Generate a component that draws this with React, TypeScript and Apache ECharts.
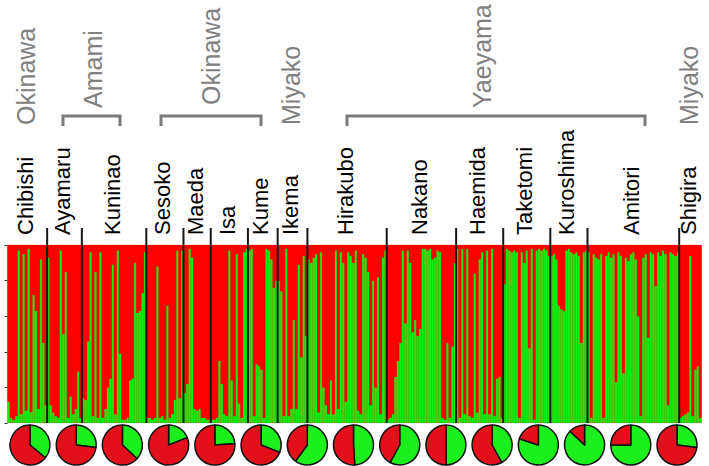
import React, { useEffect, useRef } from "react";
import * as echarts from "echarts";

// ---- data (green = ancestry proportion of the green cluster, per individual) ----
const POPULATIONS = [
  "Chibishi", "Ayamaru", "Kuninao", "Sesoko", "Maeda", "Isa", "Kume", "Ikema",
  "Hirakubo", "Nakano", "Haemida", "Taketomi", "Kuroshima", "Amitori", "Shigira",
];
const chibishi = [0.12, 0.03, 0.02, 0.04, 0.97, 0.05, 0.95, 0.07, 0.98, 0.06, 0.72, 0.63, 0.08, 0.92, 0.45, 0.1];
const ayamaru = [0.93, 0.1, 0.06, 0.04, 0.03, 0.97, 0.5, 0.85, 0.03, 0.15, 0.05, 0.08, 0.29, 0.03];
const kuninao = [0.14, 0.13, 0.46, 0.96, 0.04, 0.85, 0.03, 0.96, 0.03, 0.08, 0.2, 0.25, 0.89, 0.05, 0.97, 0.39, 0.02, 0.02, 0.03, 0.24, 0.25, 0.9, 0.62, 0.63, 0.73, 0.96];
const sesoko = [0.03, 0.03, 0.02, 0.03, 0.88, 0.03, 0.04, 0.02, 0.66, 0.03, 0.05, 0.13, 0.97, 0.14, 0.97];
const maeda = [0.17, 0.22, 0.98, 0.93, 0.08, 0.07, 0.08, 0.03, 0.03, 0.02, 0.02];
const isa = [0.02, 0.02, 0.03, 0.35, 0.22, 0.05, 0.04, 0.97, 0.24, 0.04, 0.95, 0.11, 0.03, 0.96, 0.98];
const kume = [0.97, 0.98, 0.04, 0.33, 0.32, 0.3, 0.03, 0.98, 0.97, 0.92, 0.76, 0.8];
const ikema = [0.8, 0.74, 0.04, 0.98, 0.04, 0.08, 0.58, 0.08, 0.89, 0.37, 0.94, 0.49];
const hirakubo = [0.92, 0.9, 0.93, 0.95, 0.06, 0.96, 0.2, 0.1, 0.05, 0.24, 0.05, 0.97, 0.08, 0.96, 0.9, 0.12, 0.96, 0.94, 0.9, 0.97, 0.07, 0.05, 0.95, 0.93, 0.85, 0.1, 0.8, 0.2, 0.82, 0.05, 0.93, 0.97];
const nakano = [0.02, 0.03, 0.05, 0.26, 0.35, 0.45, 0.97, 0.56, 0.97, 0.9, 0.51, 0.58, 0.49, 0.53, 0.98, 0.98, 0.97, 0.98, 0.92, 0.93, 0.97, 0.96, 0.03, 0.02, 0.45, 0.03, 0.43, 0.9];
const haemida = [0.98, 0.03, 0.98, 0.05, 0.98, 0.04, 0.03, 0.84, 0.06, 0.92, 0.96, 0.05, 0.97, 0.05, 0.98, 0.04, 0.25, 0.26, 0.03];
const taketomi = [0.78, 0.98, 0.97, 0.96, 0.97, 0.96, 0.03, 0.96, 0.9, 0.97, 0.42, 0.98, 0.02, 0.97, 0.98, 0.97, 0.98, 0.97, 0.94];
const kuroshima = [0.94, 0.95, 0.92, 0.66, 0.64, 0.63, 0.97, 0.98, 0.96, 0.95, 0.96, 0.94, 0.45, 0.96, 0.97];
const amitori = [0.96, 0.03, 0.95, 0.93, 0.92, 0.95, 0.03, 0.94, 0.96, 0.93, 0.95, 0.23, 0.96, 0.94, 0.28, 0.93, 0.91, 0.95, 0.96, 0.92, 0.6, 0.04, 0.93, 0.95, 0.48, 0.96, 0.95, 0.77, 0.96, 0.94, 0.97, 0.95, 0.1, 0.96, 0.95, 0.94, 0.96];
const shigira = [0.03, 0.04, 0.05, 0.06, 0.94, 0.04, 0.3, 0.32, 0.03];
const GREEN_BY_POP = [chibishi, ayamaru, kuninao, sesoko, maeda, isa, kume, ikema, hirakubo, nakano, haemida, taketomi, kuroshima, amitori, shigira];

// population-level proportions shown in the pies (green share)
const PIE_GREEN = [0.36, 0.27, 0.37, 0.19, 0.24, 0.31, 0.6, 0.49, 0.58, 0.5, 0.42, 0.8, 0.87, 0.75, 0.27];

// regional groups
const GROUP_NAMES = ["Okinawa", "Amami", "Okinawa", "Miyako", "Yaeyama", "Miyako"];

// ---- layout / style ----
const W = 709;
const H = 466;
const GRID_LEFT = 7.5;
const GRID_RIGHT = 7.5;
const GRID_TOP = 245;
const GRID_BOTTOM = 43;
const RED = "#ff0000";
const GREEN = "#12f012";
const PIE_RED = "#e3101c";
const PIE_GREEN_C = "#1cf01c";
const GRAY = "#808080";
const FONT = "'Liberation Sans', Arial, sans-serif";

const GROUP_LAYOUT = [
  { x: 26, y: 125 },
  { x: 93, y: 108 },
  { x: 211, y: 105 },
  { x: 291, y: 125 },
  { x: 482, y: 108 },
  { x: 689, y: 125 },
];
const BRACKETS = [
  [63, 120],
  [161, 261],
  [347, 645],
];

export default function App() {
  const ref = useRef<HTMLDivElement>(null);

  useEffect(() => {
    if (!ref.current) return;
    const chart = echarts.init(ref.current, null, { renderer: "svg" });

    const green: number[] = [];
    const popStart: number[] = [];
    GREEN_BY_POP.forEach((arr) => {
      popStart.push(green.length);
      arr.forEach((v) => green.push(v));
    });
    const N = green.length;
    const red = green.map((g) => +(1 - g).toFixed(3));
    const ids = green.map((_, i) => String(i + 1));

    const plotW = W - GRID_LEFT - GRID_RIGHT;
    const plotBottom = H - GRID_BOTTOM;
    const xAt = (idx: number) => GRID_LEFT + (idx / N) * plotW;

    const graphics: any[] = [];
    // separators
    popStart.slice(1).forEach((s) => {
      const x = xAt(s);
      graphics.push({
        type: "line",
        shape: { x1: x, y1: 228, x2: x, y2: plotBottom },
        style: { stroke: "#161616", lineWidth: 2 },
        z: 100,
      });
    });
    // population labels
    POPULATIONS.forEach((name, i) => {
      const start = popStart[i];
      const end = i + 1 < popStart.length ? popStart[i + 1] : N;
      const cx = (xAt(start) + xAt(end)) / 2 - 2;
      graphics.push({
        type: "text",
        x: cx,
        y: 235,
        rotation: Math.PI / 2,
        style: {
          text: name,
          fill: "#000",
          font: `22px ${FONT}`,
          textAlign: "left",
          textVerticalAlign: "middle",
        },
        z: 100,
      });
    });
    // group labels
    GROUP_NAMES.forEach((name, i) => {
      graphics.push({
        type: "text",
        x: GROUP_LAYOUT[i].x,
        y: GROUP_LAYOUT[i].y,
        rotation: Math.PI / 2,
        style: {
          text: name,
          fill: GRAY,
          font: `25px ${FONT}`,
          textAlign: "left",
          textVerticalAlign: "middle",
        },
        z: 100,
      });
    });
    // brackets
    BRACKETS.forEach(([a, b]) => {
      graphics.push({
        type: "polyline",
        shape: { points: [[a, 126], [a, 116], [b, 116], [b, 126]] },
        style: { stroke: "#7a7a7a", lineWidth: 3, fill: null },
        z: 100,
      });
    });

    // pies
    const pieStart = 30;
    const pieEnd = 677;
    const pieStep = (pieEnd - pieStart) / (PIE_GREEN.length - 1);
    const pies = PIE_GREEN.map((g, i) => ({
      type: "pie",
      center: [pieStart + i * pieStep, 445],
      radius: 20,
      startAngle: 90,
      clockwise: true,
      silent: true,
      label: { show: false },
      labelLine: { show: false },
      itemStyle: { borderColor: "#111", borderWidth: 1.5 },
      emphasis: { disabled: true },
      data: [
        { value: g, name: POPULATIONS[i] + " green", itemStyle: { color: PIE_GREEN_C } },
        { value: +(1 - g).toFixed(3), name: POPULATIONS[i] + " red", itemStyle: { color: PIE_RED } },
      ],
    }));

    chart.setOption({
      animation: false,
      grid: {
        left: GRID_LEFT,
        right: GRID_RIGHT,
        top: GRID_TOP,
        bottom: GRID_BOTTOM,
        show: true,
        backgroundColor: RED,
        borderWidth: 0,
      },
      xAxis: {
        type: "category",
        data: ids,
        show: false,
      },
      yAxis: {
        type: "value",
        min: 0,
        max: 1,
        interval: 0.2,
        axisLine: { show: false },
        axisTick: { show: true, length: 3, lineStyle: { color: "#333", width: 1 } },
        axisLabel: { show: false },
        splitLine: { show: false },
      },
      series: [
        {
          type: "bar",
          stack: "q",
          data: green,
          barWidth: "100%",
          barCategoryGap: "0%",
          barGap: "0%",
          silent: true,
          itemStyle: { color: GREEN, borderColor: GREEN, borderWidth: 0.6 },
        },
        {
          type: "bar",
          stack: "q",
          data: red,
          barWidth: "100%",
          barCategoryGap: "0%",
          barGap: "0%",
          silent: true,
          itemStyle: { color: RED, borderColor: RED, borderWidth: 0.4 },
        },
        ...pies,
      ],
      graphic: graphics,
    });

    return () => chart.dispose();
  }, []);

  return (
    <div
      ref={ref}
      style={{ position: "fixed", left: 0, top: 0, width: W, height: H, background: "#fff" }}
    />
  );
}
